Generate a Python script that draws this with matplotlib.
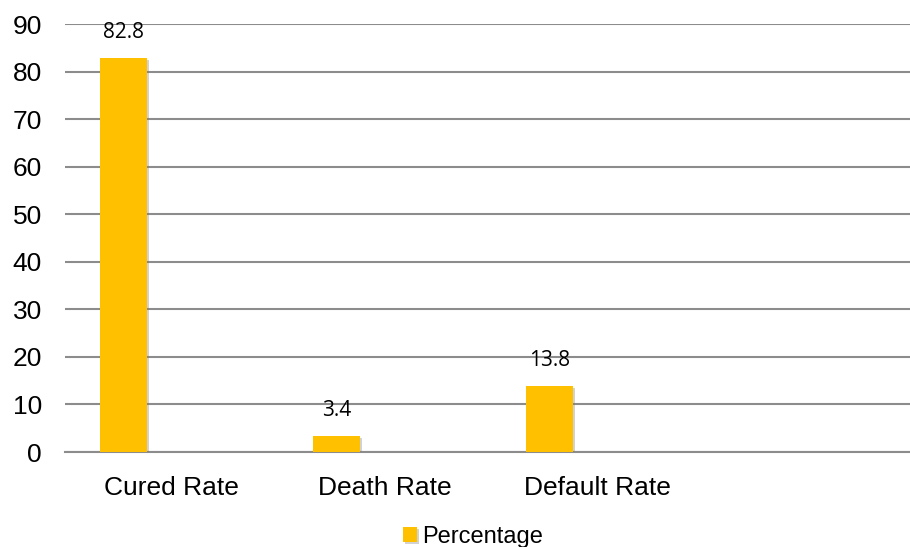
import matplotlib.pyplot as plt
import matplotlib.patheffects as pe
import numpy as np

# outcome rates (%)
categories = ['Cured Rate', 'Death Rate', 'Default Rate', '']
percentage = [82.8, 3.4, 13.8]
series_name = 'Percentage'

bar_color = '#FFC000'
grid_color = '#8c8c8c'

fig = plt.figure(figsize=(9.10, 5.47), dpi=100)
# axis runs a little past the right edge of the figure
ax = fig.add_axes([65 / 910, 95 / 547, 852 / 910, 428 / 547])

x = np.arange(len(categories))
bars = ax.bar(x[:len(percentage)] - 0.225, percentage, width=0.22,
              color=bar_color, label=series_name, zorder=3)
for b in bars:
    b.set_path_effects([pe.SimplePatchShadow(offset=(1.5, -1.5), shadow_rgbFace='#7f7f7f', alpha=0.35),
                        pe.Normal()])

for b, v in zip(bars, percentage):
    ax.annotate('%.1f' % v, (b.get_x() + b.get_width() / 2, v),
                xytext=(0, 11), textcoords='offset points',
                ha='center', va='bottom', fontsize=15, family='Open Sans')

ax.set_xlim(-0.5, len(categories) - 0.5)
ax.set_ylim(0, 90)
ax.set_yticks(range(0, 91, 10))
ax.set_xticks(x)
ax.set_xticklabels(categories)
ax.yaxis.grid(True, color=grid_color, linewidth=1.5, zorder=0)
ax.set_axisbelow(True)

for s in ['top', 'right', 'left']:
    ax.spines[s].set_visible(False)
ax.spines['bottom'].set_color(grid_color)
ax.spines['bottom'].set_linewidth(1.5)
ax.tick_params(axis='both', length=0, labelsize=19)
ax.tick_params(axis='y', pad=16.5)
ax.tick_params(axis='x', pad=17)
for lab in ax.get_xticklabels() + ax.get_yticklabels():
    lab.set_family(['Liberation Sans', 'DejaVu Sans'])

fig.legend(loc='center', bbox_to_anchor=(473 / 910, 1 - 537 / 547), frameon=False,
           prop={'family': 'Liberation Sans', 'size': 17},
           handlelength=0.6, handleheight=0.6, handletextpad=0.25)

fig.savefig('out.png', dpi=100)
